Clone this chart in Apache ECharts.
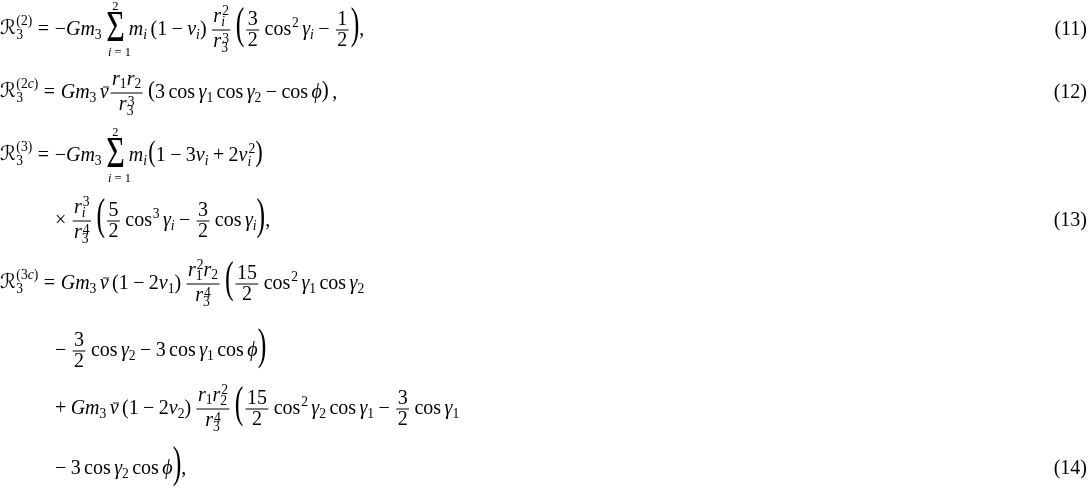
<!DOCTYPE html>
<html><head><meta charset="utf-8">
<script src="https://cdn.jsdelivr.net/npm/echarts@6/dist/echarts.min.js"></script>
<style>html,body{margin:0;padding:0;background:#fff}#c{width:1088px;height:498px}</style>
</head><body><div id="c"></div>
<script>
// ---- token constructors (markup for the formula pieces) ----
const I = s => ['i', s];
const R = s => ['r', s];
const SP = e => ['sp', e];
const BIN = s => ['bin', s];
const REL = s => ['rel', s];
const SUP = (...a) => ['sup', a];
const SUB = (...a) => ['sub', a];
const SS = (sup, sub) => ['ss', sup, sub];
const FRAC = (num, den) => ['frac', num, den];
const SUM = (top, bot) => ['sum', top, bot];
const LP = h => ['paren', '(', h];
const RP = h => ['paren', ')', h];
const BAR = (...a) => ['bar', a];
const CAL = (sup, sub) => ['cal', sup, sub];
const COS = R('cos');
const TH = SP(0.17);

// ---- content ----
const eqNumbers = ['(11)', '(12)', '(13)', '(14)'];
const eqNumberRows = [0, 1, 3, 7];

const row1 = [CAL([R('(2)')], [R('3')]), REL('='), R('−'), I('G'), I('m'), SUB(R('3')), SP(0.12),
  SUM([R('2')], [I('i'), R(' = 1')]), SP(0.1), I('m'), SUB(I('i')), TH,
  R('(1'), BIN('−'), I('ν'), SUB(I('i')), R(')'), TH,
  FRAC([I('r'), SS([R('2')], [I('i')])], [I('r'), SS([R('3')], [R('3')])]), TH,
  LP(1.9), FRAC([R('3')], [R('2')]), TH, COS, SUP(R('2')), TH, I('γ'), SUB(I('i')),
  BIN('−'), FRAC([R('1')], [R('2')]), RP(1.9), R(',')];

const row2 = [CAL([R('(2'), I('c'), R(')')], [R('3')]), REL('='), I('G'), I('m'), SUB(R('3')), TH,
  BAR(I('ν')), FRAC([I('r'), SUB(R('1')), I('r'), SUB(R('2'))], [I('r'), SS([R('3')], [R('3')])]), TH,
  LP(1.05), R('3'), TH, COS, TH, I('γ'), SUB(R('1')), TH, COS, TH, I('γ'), SUB(R('2')),
  BIN('−'), COS, TH, I('ϕ'), RP(1.05), TH, R(',')];

const row3 = [CAL([R('(3)')], [R('3')]), REL('='), R('−'), I('G'), I('m'), SUB(R('3')), SP(0.12),
  SUM([R('2')], [I('i'), R(' = 1')]), SP(0.1), I('m'), SUB(I('i')), SP(0.06),
  LP(1.3), R('1'), BIN('−'), R('3'), I('ν'), SUB(I('i')), BIN('+'), R('2'), I('ν'), SS([R('2')], [I('i')]), RP(1.3)];

const row4 = [R('×'), SP(0.22), FRAC([I('r'), SS([R('3')], [I('i')])], [I('r'), SS([R('4')], [R('3')])]), TH,
  LP(1.9), FRAC([R('5')], [R('2')]), TH, COS, SUP(R('3')), TH, I('γ'), SUB(I('i')),
  BIN('−'), FRAC([R('3')], [R('2')]), TH, COS, TH, I('γ'), SUB(I('i')), RP(1.9), R(',')];

const row5 = [CAL([R('(3'), I('c'), R(')')], [R('3')]), REL('='), I('G'), I('m'), SUB(R('3')), TH,
  BAR(I('ν')), TH, R('(1'), BIN('−'), R('2'), I('ν'), SUB(R('1')), R(')'), TH,
  FRAC([I('r'), SS([R('2')], [R('1')]), I('r'), SUB(R('2'))], [I('r'), SS([R('4')], [R('3')])]), TH,
  LP(1.9), FRAC([R('15')], [R('2')]), TH, COS, SUP(R('2')), TH, I('γ'), SUB(R('1')), TH, COS, TH, I('γ'), SUB(R('2'))];

const row6 = [R('−'), SP(0.22), FRAC([R('3')], [R('2')]), TH, COS, TH, I('γ'), SUB(R('2')),
  BIN('−'), R('3'), TH, COS, TH, I('γ'), SUB(R('1')), TH, COS, TH, I('ϕ'), RP(1.9)];

const row7 = [R('+'), SP(0.22), I('G'), I('m'), SUB(R('3')), TH, BAR(I('ν')), TH,
  R('(1'), BIN('−'), R('2'), I('ν'), SUB(R('2')), R(')'), TH,
  FRAC([I('r'), SUB(R('1')), I('r'), SS([R('2')], [R('2')])], [I('r'), SS([R('4')], [R('3')])]), TH,
  LP(1.9), FRAC([R('15')], [R('2')]), TH, COS, SUP(R('2')), TH, I('γ'), SUB(R('2')), TH, COS, TH, I('γ'), SUB(R('1')),
  BIN('−'), FRAC([R('3')], [R('2')]), TH, COS, TH, I('γ'), SUB(R('1'))];

const row8 = [R('−'), SP(0.22), R('3'), TH, COS, TH, I('γ'), SUB(R('2')), TH, COS, TH, I('ϕ'), RP(1.9), R(',')];

const rows = [row1, row2, row3, row4, row5, row6, row7, row8];

// ---- layout settings ----
const rowX = [0, 0, 0, 55, 0, 55, 55, 55];
const rowAxis = [29, 92, 155, 220, 283, 350, 408, 468];
const FONT = "'Liberation Serif','Times New Roman',serif";
const CALFONT = "'DejaVu Serif','DejaVu Sans',serif";
const FS = 20;
const MID = 0.3375;
const DY = 2;          // global text nudge downwards
const SCR = 0.68;
const LIM = 0.62;
const INK = '#000';

const ctx = document.createElement('canvas').getContext('2d');
function tw(s, size, italic, fam) {
  ctx.font = (italic ? 'italic ' : '') + size.toFixed(2) + 'px ' + (fam || FONT);
  return ctx.measureText(s).width;
}
const els = [];
function put(s, x, base, size, italic, fam) {
  els.push({
    type: 'text', x: x, y: base - MID * size + DY, silent: true,
    style: { text: s, fontSize: size, fontFamily: fam || FONT, fontStyle: italic ? 'italic' : 'normal',
      fill: INK, align: 'left', verticalAlign: 'middle' }
  });
}
function hline(x1, x2, y, lw) {
  els.push({ type: 'line', silent: true, shape: { x1: x1, y1: y, x2: x2, y2: y },
    style: { stroke: INK, lineWidth: lw || 1 } });
}
function hasScript(tokens) { return tokens.some(t => t[0] === 'sub' || t[0] === 'ss'); }
function hasSup(tokens) { return tokens.some(t => t[0] === 'sup' || t[0] === 'ss'); }

// mode: 'n' normal, 'num' numerator, 'den' denominator, 's' script
function lay(tokens, x, base, size, draw, mode) {
  mode = mode || 'n';
  const supR = mode === 'den' ? 0.22 : (mode === 'num' ? 0.34 : 0.38);
  const subL = mode === 'num' ? 0.16 : 0.2;
  for (const t of tokens) {
    const k = t[0];
    if (k === 'i' || k === 'r') {
      const it = k === 'i';
      if (draw) put(t[1], x, base, size, it);
      x += tw(t[1], size, it);
    } else if (k === 'sp') {
      x += t[1] * size;
    } else if (k === 'bin' || k === 'rel') {
      const g = (k === 'bin' ? 0.22 : 0.28) * size;
      x += g;
      if (draw) put(t[1], x, base, size, false);
      x += tw(t[1], size, false) + g;
    } else if (k === 'sup') {
      x = lay(t[1], x + 0.04 * size, base - supR * size, size * SCR, draw, 's');
    } else if (k === 'sub') {
      x = lay(t[1], x, base + subL * size, size * SCR, draw, 's');
    } else if (k === 'ss') {
      const a = lay(t[1], x + 0.05 * size, base - supR * size, size * SCR, draw, 's');
      const b = lay(t[2], x, base + (subL + 0.05) * size, size * SCR, draw, 's');
      x = Math.max(a, b);
    } else if (k === 'cal') {
      if (draw) put('ℛ', x, base, size, false, CALFONT);
      x += tw('ℛ', size, false, CALFONT) + 0.02 * size;
      const a = lay(t[1], x, base - 0.5 * size, size * SCR, draw, 's');
      const b = lay(t[2], x, base + 0.2 * size, size * SCR, draw, 's');
      x = Math.max(a, b);
    } else if (k === 'frac') {
      const nw = lay(t[1], 0, 0, size, false, 'num'), dw = lay(t[2], 0, 0, size, false, 'den');
      const W = Math.max(nw, dw) + 0.14 * size;
      const x0 = x + 0.1 * size;
      const axis = base - 0.25 * size;
      const nu = hasScript(t[1]) ? 0.4 : 0.22;
      const dn = hasSup(t[2]) ? 0.86 : 0.8;
      if (draw) {
        hline(x0, x0 + W, axis + DY * 0.5, 1);
        lay(t[1], x0 + (W - nw) / 2, axis - nu * size, size, true, 'num');
        lay(t[2], x0 + (W - dw) / 2, axis + dn * size, size, true, 'den');
      }
      x = x0 + W + 0.1 * size;
    } else if (k === 'sum') {
      const fsz = size * 1.6, ss = size * LIM;
      const sw = tw('Σ', fsz);
      const tw1 = lay(t[1], 0, 0, ss, false), bw = lay(t[2], 0, 0, ss, false);
      const W = Math.max(sw, tw1, bw);
      const axis = base - 0.25 * size;
      if (draw) {
        els.push({ type: 'text', x: x + (W - sw) / 2, y: axis - 0.1 * size + DY, scaleY: 1.38, silent: true,
          style: { text: 'Σ', fontSize: fsz, fontFamily: FONT, fill: INK, align: 'left', verticalAlign: 'middle' } });
        lay(t[1], x + (W - tw1) / 2, axis - 1.0 * size, ss, true);
        lay(t[2], x + (W - bw) / 2 + 0.2 * size, axis + 1.3 * size, ss, true);
      }
      x += W;
    } else if (k === 'paren') {
      const kk = t[2] / 0.875;
      const sx = 1 + (kk - 1) * 0.25;
      const axis = base - 0.25 * size;
      if (draw) {
        els.push({ type: 'text', x: x, y: axis - 0.085 * size * kk - 0.04 * size + DY, scaleX: sx, scaleY: kk, silent: true,
          style: { text: t[1], fontSize: size, fontFamily: FONT, fill: INK, align: 'left', verticalAlign: 'middle' } });
      }
      x += tw(t[1], size) * sx;
    } else if (k === 'bar') {
      const x1 = lay(t[1], x, base, size, draw, mode);
      if (draw) hline(x + 0.16 * size, x1 + 0.02 * size, base - 0.6 * size + DY, 0.9);
      x = x1;
    }
  }
  return x;
}

rows.forEach((row, r) => {
  lay(row, rowX[r], rowAxis[r] + 0.25 * FS, FS, true, 'n');
});
eqNumbers.forEach((s, j) => {
  const w = tw(s, FS);
  put(s, 1087 - w, rowAxis[eqNumberRows[j]] + 0.25 * FS, FS, false);
});

const chart = echarts.init(document.getElementById('c'), null, { renderer: 'canvas' });
chart.setOption({ animation: false, backgroundColor: '#fff', graphic: { elements: els } });
</script>
</body></html>
